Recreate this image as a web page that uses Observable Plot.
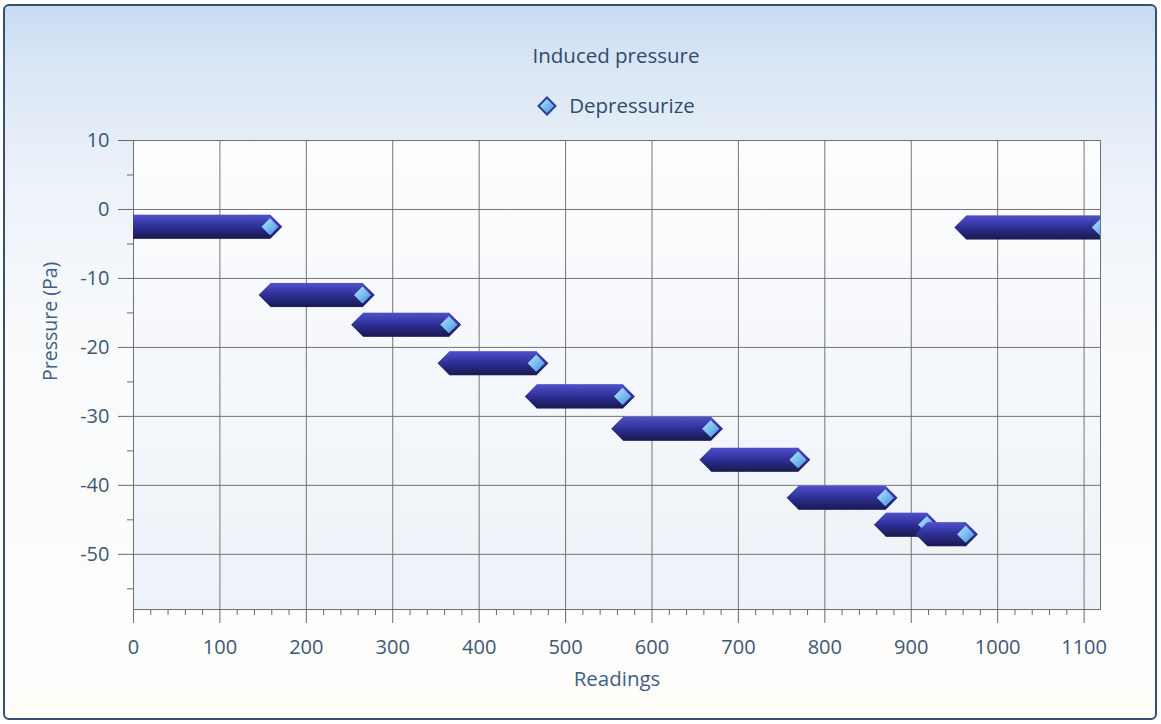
<!DOCTYPE html>
<html>
<head>
<meta charset="utf-8">
<script src="https://cdn.jsdelivr.net/npm/d3@7"></script>
<script src="https://cdn.jsdelivr.net/npm/@observablehq/plot@0.6"></script>
<style>
  html, body { margin: 0; padding: 0; background: #ffffff; }
  body { width: 1161px; height: 724px; position: relative; overflow: hidden; font-family: "Open Sans", "Noto Sans", sans-serif; }
  #win {
    position: absolute; left: 3px; top: 4px; width: 1150px; height: 712px;
    border: 2px solid #34506e; border-radius: 6px;
    background: linear-gradient(180deg, #c7dbf2 0%, #d9e6f5 8%, #ecf2f9 25%, #f8fafc 45%, #fffefb 100%);
  }
  #title { position: absolute; left: 0; width: 1232px; top: 43px; line-height: 24px; text-align: center; font-size: 20.5px; color: #2f4c6c; }
  #legend { position: absolute; left: 0; width: 1232px; top: 92px; line-height: 26px; text-align: center; font-size: 20.5px; color: #2f4c6c; }
  #legend svg { vertical-align: -3px; margin-right: 12px; }
  #chart { position: absolute; left: 0; top: 120px; }
</style>
</head>
<body>
<svg width="0" height="0" style="position:absolute">
  <defs>
    <linearGradient id="face" x1="0" y1="0" x2="1" y2="1">
      <stop offset="0" stop-color="#d2f1ff"/>
      <stop offset="0.4" stop-color="#86c9f4"/>
      <stop offset="1" stop-color="#3b82d4"/>
    </linearGradient>
    <linearGradient id="edge" x1="0" y1="0" x2="0" y2="1">
      <stop offset="0" stop-color="#4c4cc6"/>
      <stop offset="0.5" stop-color="#2e2e96"/>
      <stop offset="1" stop-color="#1b1b56"/>
    </linearGradient>
    <linearGradient id="plotbg" x1="0" y1="0" x2="0" y2="1">
      <stop offset="0" stop-color="#fcfdfe"/>
      <stop offset="1" stop-color="#edf2f8"/>
    </linearGradient>
  </defs>
</svg>
<div id="win"></div>
<div id="title">Induced pressure</div>
<div id="legend"><svg width="20" height="20" viewBox="-10 -10 20 20"><path d="M0,-8.5L8.5,0L0,8.5L-8.5,0Z" fill="url(#face)" stroke="#2a3f9a" stroke-width="2"/></svg>Depressurize</div>
<div id="chart"></div>
<script>
// Step levels of the "Depressurize" series (reading index ranges and pressure in Pa)
const stepStart = [0, 159, 266, 366, 467, 567, 669, 770, 871, 919, 964];
const stepEnd   = [158, 265, 365, 466, 566, 668, 769, 870, 918, 963, 1119];
const stepLevel = [-2.5, -12.4, -16.7, -22.3, -27.1, -31.8, -36.3, -41.8, -45.7, -47.1, -2.6];

// Axis ticks
const xMajor = [0, 100, 200, 300, 400, 500, 600, 700, 800, 900, 1000, 1100];
const xMinor = [20, 40, 60, 80, 120, 140, 160, 180, 220, 240, 260, 280, 320, 340, 360, 380, 420, 440, 460, 480, 520, 540, 560, 580, 620, 640, 660, 680, 720, 740, 760, 780, 820, 840, 860, 880, 920, 940, 960, 980, 1020, 1040, 1060, 1080];
const yMajor = [10, 0, -10, -20, -30, -40, -50];
const yMinor = [5, -5, -15, -25, -35, -45, -55];

const readings = [];
stepStart.forEach((s, i) => {
  for (let r = s; r <= stepEnd[i]; r++) readings.push({reading: r, pressure: stepLevel[i]});
});

const tickColor = "#6a6a6a";
const labelColor = "#3b5877";
const chart = Plot.plot({
  width: 1161,
  height: 600,
  marginLeft: 133,
  marginRight: 61,
  marginTop: 20,
  marginBottom: 111,
  x: {domain: [0, 1119]},
  y: {domain: [-58, 10]},
  style: {background: "transparent", fontFamily: "'Open Sans', 'Noto Sans', sans-serif", fontSize: "20px", color: labelColor},
  marks: [
    Plot.frame({fill: "url(#plotbg)", stroke: null}),
    Plot.gridX(xMajor, {stroke: "#747474", strokeOpacity: 1, strokeWidth: 1}),
    Plot.gridY(yMajor, {stroke: "#747474", strokeOpacity: 1, strokeWidth: 1}),
    Plot.frame({stroke: "#707070", strokeWidth: 1}),
    Plot.axisX(xMajor, {tickSize: 14, tickPadding: 16, stroke: tickColor, fill: labelColor, label: null, tickFormat: d => String(d)}),
    Plot.axisX(xMinor, {tickSize: 6, tickFormat: () => "", stroke: tickColor, label: null}),
    Plot.axisY(yMajor, {tickSize: 15, tickPadding: 9, stroke: tickColor, fill: labelColor, label: null, tickFormat: d => String(d)}),
    Plot.axisY(yMinor, {tickSize: 6, tickFormat: () => "", stroke: tickColor, label: null}),
    Plot.dot(readings, {x: "reading", y: "pressure", symbol: "diamond2", r: 9.4, fill: "url(#face)", stroke: "url(#edge)", strokeWidth: 2.6, clip: true}),
    Plot.text(["Readings"], {frameAnchor: "bottom", dy: 76, fontSize: 20.5, fill: "#3d6186"}),
    Plot.text(["Pressure (Pa)"], {frameAnchor: "left", dx: -83, dy: 6, rotate: -90, fontSize: 19.5, fill: "#3d6186"})
  ]
});
document.getElementById("chart").appendChild(chart);
</script>
</body>
</html>
